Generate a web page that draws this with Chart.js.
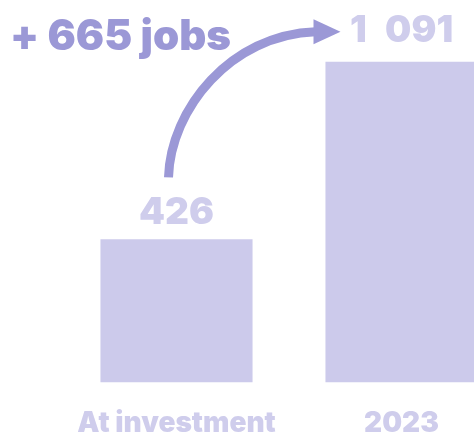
<!DOCTYPE html>
<html>
<head>
<meta charset="utf-8">
<script src="https://cdn.jsdelivr.net/npm/chart.js@4.4.1/dist/chart.umd.min.js"></script>
<style>
  html, body { margin: 0; padding: 0; background: #fff; overflow: hidden; }
  #wrap { position: relative; width: 514px; height: 464px; }
</style>
</head>
<body>
<div id="wrap"><canvas id="ch"></canvas></div>
<script>
const categories = ['At investment', '2023'];
const jobs = [426, 1091];

const yMin = -110;
const yMax = 1322;

const barColor = '#cccaeb';
const labelColor = '#cfcdec';
const accent = '#9b98d6';
const fontFamily = "Inter, Lato, 'Noto Sans', sans-serif";

// thousands grouped with a wide space, like "1 091"
function fmt(v) {
    return String(v).replace(/\B(?=(\d{3})+(?!\d))/g, '\u2002');
}

// value labels above bars, the arrow and the "+ N jobs" note
const extras = {
    id: 'extras',
    afterDatasetsDraw(chart) {
        const ctx = chart.ctx;
        const bars = chart.getDatasetMeta(0).data;
        ctx.save();
        ctx.fillStyle = labelColor;
        ctx.textAlign = 'center';
        ctx.textBaseline = 'alphabetic';
        ctx.font = '900 37px ' + fontFamily;
        bars.forEach(function (bar, i) {
            const gap = i === 0 ? 15 : 20;
            ctx.fillText(fmt(jobs[i]), bar.x, bar.y - gap);
        });

        // curved arrow from the first value to the second
        const a = bars[0], b = bars[1];
        const x0 = a.x - 8, y0 = a.y - 62;
        const x3 = b.x - 86, y3 = b.y - 30;
        ctx.strokeStyle = accent;
        ctx.lineWidth = 9;
        ctx.beginPath();
        ctx.moveTo(x0, y0);
        ctx.bezierCurveTo(x0 + 2, y0 - 68, x0 + 62, y3 + 3, x3, y3);
        ctx.stroke();
        ctx.fillStyle = accent;
        ctx.beginPath();
        ctx.moveTo(x3 - 2, y3 - 12.5);
        ctx.lineTo(x3 + 25, y3);
        ctx.lineTo(x3 - 2, y3 + 12.5);
        ctx.closePath();
        ctx.fill();

        ctx.textAlign = 'left';
        ctx.font = '900 42px ' + fontFamily;
        ctx.fillText('+ ' + (jobs[1] - jobs[0]) + ' jobs', 10, 50);
        ctx.restore();
    }
};

const ch = document.getElementById('ch').getContext('2d');
new Chart(ch, {
    type: 'bar',
    data: {
        labels: categories,
        datasets: [
            {
                data: jobs,
                base: yMin,
                backgroundColor: barColor,
                borderWidth: 0,
                categoryPercentage: 1,
                barPercentage: 0.676
            }
        ]
    },
    options: {
        responsive: true,
        maintainAspectRatio: false,
        animation: { duration: 0 },
        events: [],
        layout: { padding: { left: 64, right: 0, top: 0, bottom: 0 } },
        plugins: {
            legend: { display: false },
            tooltip: { enabled: false }
        },
        scales: {
            x: {
                grid: { display: false, drawTicks: false },
                border: { display: false },
                ticks: {
                    color: labelColor,
                    padding: 24,
                    font: { family: fontFamily, size: 28, weight: '900' }
                }
            },
            y: {
                display: false,
                min: yMin,
                max: yMax
            }
        }
    },
    plugins: [extras]
});
</script>
</body>
</html>
